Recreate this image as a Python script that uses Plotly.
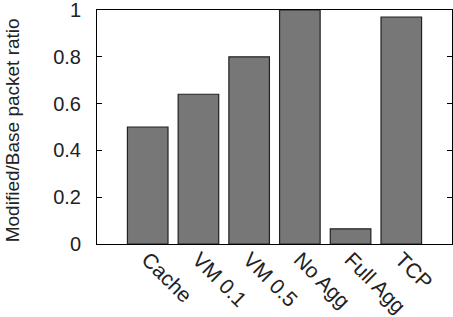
import plotly.graph_objects as go

categories = ["Cache", "VM 0.1", "VM 0.5", "No Agg", "Full Agg", "TCP"]
values = [0.50, 0.64, 0.80, 1.00, 0.065, 0.97]
ytick_vals = [0, 0.2, 0.4, 0.6, 0.8, 1]
ytick_text = ["0", "0.2", "0.4", "0.6", "0.8", "1"]

W, H = 453, 317
L, R, T, B = 97, 1, 10, 73

fig = go.Figure()
fig.add_trace(go.Bar(
    x=list(range(len(categories))), y=values, width=0.8,
    marker=dict(color="#777777", line=dict(color="#222222", width=1.2)),
))
fig.update_layout(
    width=W, height=H, margin=dict(l=L, r=R, t=T, b=B),
    plot_bgcolor="white", paper_bgcolor="white", showlegend=False,
    font=dict(family="Liberation Sans, Arial, sans-serif", size=20, color="#222222"),
)
fig.update_xaxes(
    range=[-1, 6], tickmode="array", tickvals=list(range(len(categories))),
    ticktext=categories, tickangle=45, ticks="", showgrid=False, zeroline=False,
    showline=True, linecolor="black", linewidth=1, mirror=True,
    tickfont=dict(size=21), automargin=False, ticklabelstandoff=-6,
)
fig.update_yaxes(
    range=[0, 1], tickmode="array", tickvals=ytick_vals, ticktext=ytick_text,
    ticks="inside", ticklen=5, tickcolor="black", showgrid=False, zeroline=False,
    showline=True, linecolor="black", linewidth=1, mirror="ticks",
    ticklabelstandoff=11, ticklabeloverflow="allow", tickfont=dict(size=20),
    automargin=False,
)
plot_w = W - L - R
fig.add_annotation(
    text="Modified/Base packet ratio", textangle=-90,
    xref="paper", yref="paper", x=-(L - 12) / plot_w, y=0.486,
    xanchor="center", yanchor="middle", showarrow=False,
    font=dict(size=19),
)
fig.write_html("out.html")
